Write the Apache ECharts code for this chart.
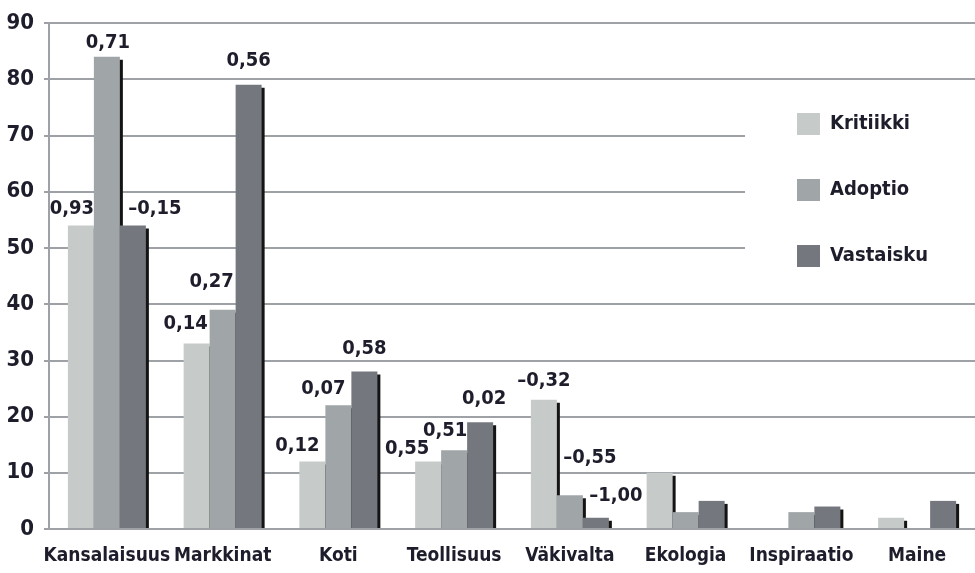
<!DOCTYPE html>
<html>
<head>
<meta charset="utf-8">
<script src="https://cdn.jsdelivr.net/npm/echarts@6/dist/echarts.min.js"></script>
<style>
  html, body { margin: 0; padding: 0; background: #fff; }
  #chart { width: 975px; height: 573px; }
</style>
</head>
<body>
<div id="chart"></div>
<script>
const categories = ['Kansalaisuus', 'Markkinat', 'Koti', 'Teollisuus', 'Väkivalta', 'Ekologia', 'Inspiraatio', 'Maine']
const seriesNames = ['Kritiikki', 'Adoptio', 'Vastaisku']
const kritiikki = [54, 33, 12, 12, 23, 10, 0, 2]
const adoptio = [84, 39, 22, 14, 6, 3, 3, 0]
const vastaisku = [54, 79, 28, 19, 2, 5, 4, 5]
const kritiikkiCorr = [0.93, 0.14, 0.12, 0.55, -0.32, null, null, null]
const adoptioCorr = [0.71, 0.27, 0.07, 0.51, -0.55, null, null, null]
const vastaiskuCorr = [-0.15, 0.56, 0.58, 0.02, -1.00, null, null, null]
const yMin = 0
const yMax = 90
const yStep = 10

// label nudges so the numbers don't overlap (dx, gap above bar)
const labelShift = [
  [[-9, 7], [-11, 10], [-15, 6], [-21, 3], [0, 9]],
  [[1, 4], [-11, 18], [-15, 7], [-9, 9], [20, 27]],
  [[22, 7], [0, 14], [0, 13], [4, 13], [20, 12]]
]
const colors = ['#c6cbca', '#a0a5a8', '#74787e']
const font = '"Liberation Sans Narrow", "DejaVu Sans Condensed", sans-serif'
const textColor = '#1d1d2b'
const axisColor = '#9ea2a6'

const fmt = v => (v < 0 ? '–' : '') + Math.abs(v).toFixed(2).replace('.', ',')

const buildSeries = (idx, values, corr) => ({
  name: seriesNames[idx],
  type: 'bar',
  barWidth: 26,
  barGap: '0%',
  itemStyle: {
    color: colors[idx],
    shadowColor: '#141414',
    shadowBlur: 0,
    shadowOffsetX: 3,
    shadowOffsetY: 3
  },
  data: values.map((v, i) => {
    const item = { value: v }
    if (corr[i] !== null) {
      const s = labelShift[idx][i]
      item.label = {
        show: true,
        position: 'top',
        distance: 0,
        offset: [s[0], -s[1]],
        formatter: fmt(corr[i])
      }
    }
    return item
  }),
  label: {
    show: false,
    fontFamily: font,
    fontWeight: 'bold',
    fontSize: 20,
    color: textColor
  }
})

const chart = echarts.init(document.getElementById('chart'))
chart.setOption({
  animation: false,
  backgroundColor: '#fff',
  grid: { left: 49, right: 0, top: 23, bottom: 44 },
  legend: {
    orient: 'vertical',
    left: 745,
    top: 100,
    padding: [13, 80, 13, 52],
    backgroundColor: '#fff',
    itemWidth: 23,
    itemHeight: 22,
    itemGap: 44,
    icon: 'rect',
    textStyle: { fontFamily: font, fontWeight: 'bold', fontSize: 20, color: textColor, padding: [0, 0, 0, 5] },
    data: seriesNames
  },
  xAxis: {
    type: 'category',
    data: categories,
    z: 5,
    axisTick: { show: false },
    axisLine: { lineStyle: { color: axisColor, width: 2 } },
    axisLabel: { margin: 18, fontFamily: font, fontWeight: 'bold', fontSize: 19, color: textColor, interval: 0 }
  },
  yAxis: {
    type: 'value',
    min: yMin,
    max: yMax,
    interval: yStep,
    axisLine: { show: true, lineStyle: { color: axisColor, width: 2 } },
    axisTick: { show: true, length: 5, lineStyle: { color: axisColor, width: 2 } },
    splitLine: { lineStyle: { color: axisColor, width: 2 } },
    axisLabel: { margin: 15, fontFamily: font, fontWeight: 'bold', fontSize: 22, color: textColor }
  },
  series: [
    buildSeries(0, kritiikki, kritiikkiCorr),
    buildSeries(1, adoptio, adoptioCorr),
    buildSeries(2, vastaisku, vastaiskuCorr)
  ]
})

// hide the part of the bar shadows that falls below the x axis
const y0 = chart.convertToPixel({ yAxisIndex: 0 }, yMin)
chart.setOption({
  graphic: [{
    type: 'rect',
    z: 100,
    shape: { x: 50, y: y0 + 1, width: 975, height: 6 },
    style: { fill: '#fff' }
  }]
})
</script>
</body>
</html>
